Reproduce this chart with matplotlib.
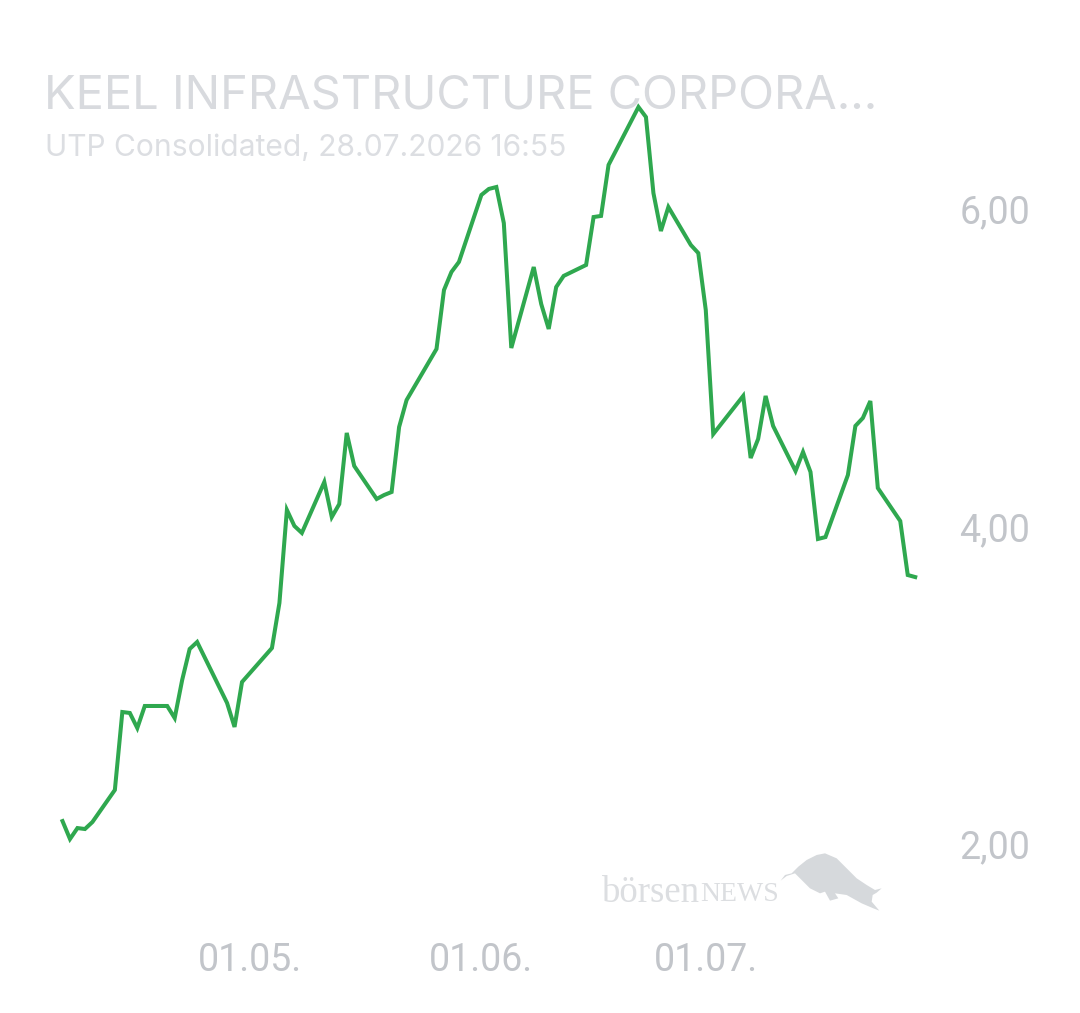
import matplotlib
matplotlib.use("Agg")
import matplotlib.pyplot as plt
import pandas as pd
from matplotlib.patches import Polygon
from matplotlib.transforms import Affine2D

W, H = 1080, 1013

title = "KEEL INFRASTRUCTURE CORPORA..."
subtitle = "UTP Consolidated, 28.07.2026 16:55"

start_date = "2026-04-06"
day_offsets = [0, 1, 2, 3, 4, 7, 8, 9, 10, 11, 14, 15, 16, 17, 18, 22, 23, 24, 28, 29, 30,
               31, 32, 35, 36, 37, 38, 39, 42, 43, 44, 45, 46, 50, 51, 52, 53, 56, 57, 58,
               59, 60, 63, 64, 65, 66, 67, 70, 71, 72, 73, 77, 78, 79, 80, 81, 84, 85, 86,
               87, 91, 92, 93, 94, 95, 98, 99, 100, 101, 102, 105, 106, 107, 108, 109, 112,
               113, 114]
prices = [2.157, 2.044, 2.113, 2.107, 2.151, 2.353, 2.844, 2.838, 2.743, 2.882, 2.882, 2.806,
          3.046, 3.241, 3.285, 2.901, 2.750, 3.033, 3.247, 3.531, 4.117,
          4.016, 3.972, 4.293, 4.072, 4.154, 4.602, 4.394, 4.186, 4.211, 4.230, 4.639, 4.809,
          5.131, 5.502, 5.616, 5.679, 6.101, 6.139, 6.151,
          5.924, 5.137, 5.647, 5.414, 5.257, 5.521, 5.591, 5.660, 5.962, 5.969, 6.290,
          6.655, 6.592, 6.113, 5.874, 6.025, 5.786, 5.735, 5.376,
          4.595, 4.835, 4.444, 4.564, 4.835, 4.646, 4.362, 4.482, 4.356, 3.934, 3.946,
          4.337, 4.646, 4.696, 4.803, 4.255, 4.047, 3.707, 3.694]
y_ticks = [2.0, 4.0, 6.0]
y_tick_labels = ["2,00", "4,00", "6,00"]
x_ticks = ["2026-05-01", "2026-06-01", "2026-07-01"]
x_tick_labels = ["01.05.", "01.06.", "01.07."]

dates = pd.Timestamp(start_date) + pd.to_timedelta(day_offsets, unit="D")

fig = plt.figure(figsize=(W / 100, H / 100), dpi=100, facecolor="white")
ax = fig.add_axes([0, 1 - 925 / H, 955 / W, 925 / H])
ax.patch.set_alpha(0)
for s in ax.spines.values():
    s.set_visible(False)

px_per_day = 7.48
x0 = pd.Timestamp(start_date)
left_px = 62.5
ax.set_xlim(x0 - pd.Timedelta(days=left_px / px_per_day), x0 + pd.Timedelta(days=(955 - left_px) / px_per_day))
px_per_unit = 158.75
ax.set_ylim(6 - (925 - 211) / px_per_unit, 6 + 211 / px_per_unit)

ax.plot(dates, prices, color="#2fa84f", lw=2.9, solid_joinstyle="miter", zorder=3)

ax.yaxis.tick_right()
ax.set_yticks(y_ticks, y_tick_labels)
ax.set_xticks(pd.to_datetime(x_ticks), x_tick_labels)
ax.tick_params(axis="both", length=0, labelcolor="#c2c5ca", labelsize=27)
ax.tick_params(axis="y", pad=3)
ax.tick_params(axis="x", pad=12)
for t in ax.get_xticklabels() + ax.get_yticklabels():
    t.set_fontfamily("Roboto")
for t in ax.get_yticklabels():
    t.set_transform(t.get_transform() + Affine2D().translate(0, 2))

to_fig = Affine2D().scale(1, -1).translate(0, H)  # pixels from top-left
fig.text(44.5, 108.5, title, transform=to_fig, fontsize=33.9, family="Inter", fontweight="normal",
         color="#d8dade", va="baseline", ha="left")
fig.text(45, 156, subtitle, transform=to_fig, fontsize=21.6, family="Inter", fontweight="normal",
         color="#dcdee2", va="baseline", ha="left")

# watermark
fig.text(602, 902, "börsen", transform=to_fig, fontsize=26.5, family="Liberation Serif",
         color="#dcdee1", va="baseline", ha="left")
fig.text(700, 901, "NEWS", transform=to_fig, fontsize=20, family="Liberation Serif",
         color="#dcdee1", va="baseline", ha="left")
bull_zoom = [(572, 122), (585, 105), (605, 100), (625, 80), (650, 60), (680, 45), (705, 40), (740, 55),
             (770, 85), (800, 115), (830, 135), (855, 150), (875, 145), (860, 158), (848, 165), (845, 185),
             (868, 212), (850, 205), (815, 190), (770, 165), (735, 160), (745, 175), (720, 182),
             (705, 155), (690, 160), (660, 145), (640, 125), (615, 100), (590, 108)]
bull_px = [(590 + a / 3, 840 + b / 3) for a, b in bull_zoom]
fig.add_artist(Polygon(bull_px, closed=True, transform=to_fig, facecolor="#d6d9dc", edgecolor="none"))

fig.savefig("out.png", dpi=100)
